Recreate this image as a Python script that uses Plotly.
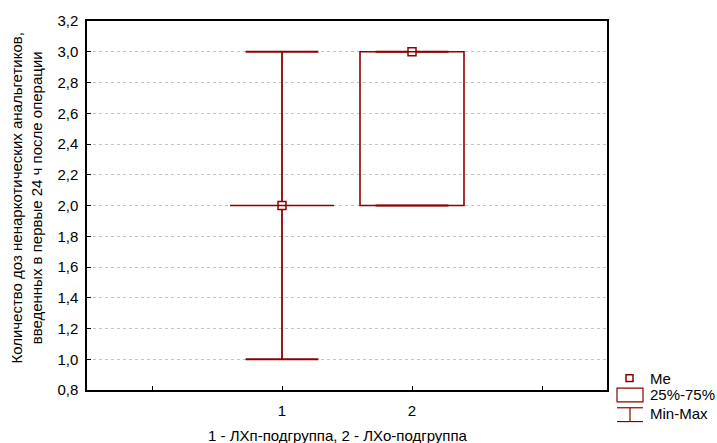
import plotly.graph_objects as go

# Summary statistics per subgroup
groups = [1, 2]
medians = [2.0, 3.0]
q1 = [2.0, 2.0]
q3 = [2.0, 3.0]
mins = [1.0, 2.0]
maxs = [3.0, 3.0]

y_ticks = [0.8, 1.0, 1.2, 1.4, 1.6, 1.8, 2.0, 2.2, 2.4, 2.6, 2.8, 3.0, 3.2]
x_ticks = [0, 1, 2, 3]
x_ticklabels = ["", "1", "2", ""]

RED = "#8e0000"
BOX_HALF = 0.4
CAP_HALF = 0.28
FS = 15

fig = go.Figure()

# whiskers (from box edges out to min / max) and caps
wx, wy = [], []
for g, lo, a, b, hi in zip(groups, mins, q1, q3, maxs):
    if lo < a:
        wx += [g, g, None]
        wy += [lo, a, None]
    if hi > b:
        wx += [g, g, None]
        wy += [b, hi, None]
    wx += [g - CAP_HALF, g + CAP_HALF, None, g - CAP_HALF, g + CAP_HALF, None]
    wy += [lo, lo, None, hi, hi, None]
fig.add_trace(go.Scatter(x=wx, y=wy, mode="lines", line=dict(color=RED, width=1.8),
                         hoverinfo="skip", showlegend=False))

# interquartile boxes
for g, a, b in zip(groups, q1, q3):
    fig.add_shape(type="rect", xref="x", yref="y", x0=g - BOX_HALF, x1=g + BOX_HALF,
                  y0=a, y1=b, line=dict(color=RED, width=1.6), fillcolor="rgba(0,0,0,0)")

# medians
fig.add_trace(go.Scatter(x=groups, y=medians, mode="markers",
                         marker=dict(symbol="square", size=8, color="white",
                                     line=dict(color=RED, width=1.5)),
                         showlegend=False))

# legend drawn by hand outside the plot area
L, R, T, B = 87, 607, 16, 390
W, H = R - L, B - T
def px(x):
    return (x - L) / W
def py(y):
    return (B - y) / H

fig.add_shape(type="rect", xref="paper", yref="paper", x0=px(626), x1=px(633),
              y0=py(381.5), y1=py(374.5), line=dict(color=RED, width=1.5), fillcolor="white")
fig.add_shape(type="rect", xref="paper", yref="paper", x0=px(617), x1=px(643),
              y0=py(402), y1=py(388), line=dict(color=RED, width=1.2))
for yy in (408, 422):
    fig.add_shape(type="line", xref="paper", yref="paper", x0=px(617), x1=px(643),
                  y0=py(yy), y1=py(yy), line=dict(color=RED, width=1.2))
fig.add_shape(type="line", xref="paper", yref="paper", x0=px(630), x1=px(630),
              y0=py(408), y1=py(422), line=dict(color=RED, width=1.2))
for label, yy in (("Me", 378), ("25%-75%", 395), ("Min-Max", 414)):
    fig.add_annotation(xref="paper", yref="paper", x=px(648), y=py(yy), text=label,
                       showarrow=False, xanchor="left", yanchor="middle",
                       font=dict(size=FS, color="black"))

# axis titles
fig.add_annotation(xref="paper", yref="paper", x=px(27), y=py(195), xanchor="center",
                   yanchor="middle", textangle=-90, showarrow=False,
                   text="Количество доз ненаркотических анальгетиков,<br>введенных в первые 24 ч после операции",
                   font=dict(size=FS, color="black"))
fig.add_annotation(xref="paper", yref="paper", x=px(338), y=py(436), xanchor="center",
                   yanchor="middle", showarrow=False,
                   text="1 - ЛХп-подгруппа, 2 - ЛХо-подгруппа",
                   font=dict(size=FS, color="black"))

fig.update_layout(
    width=717, height=443,
    margin=dict(l=L, r=717 - R, t=T, b=443 - B),
    plot_bgcolor="white", paper_bgcolor="white",
    separators=", ",
    font=dict(family="Liberation Sans, Arial, sans-serif", size=FS, color="black"),
    showlegend=False,
)
fig.update_xaxes(
    range=[-0.5, 3.5], tickvals=x_ticks, ticktext=x_ticklabels,
    showgrid=False, zeroline=False, showline=True, linecolor="black", linewidth=1.5,
    mirror=True, ticks="inside", ticklen=4, tickcolor="black", ticklabelstandoff=6,
    tickfont=dict(size=FS),
)
fig.update_yaxes(
    range=[0.8, 3.2], tickvals=y_ticks, tickformat=".1f",
    showgrid=True, gridcolor="#c4c4c4", griddash="dot", gridwidth=1,
    zeroline=False, showline=True, linecolor="black", linewidth=1.5,
    mirror=True, ticks="inside", ticklen=4, tickcolor="black", ticklabelstandoff=4,
    tickfont=dict(size=FS),
)

fig.write_html("out.html")
